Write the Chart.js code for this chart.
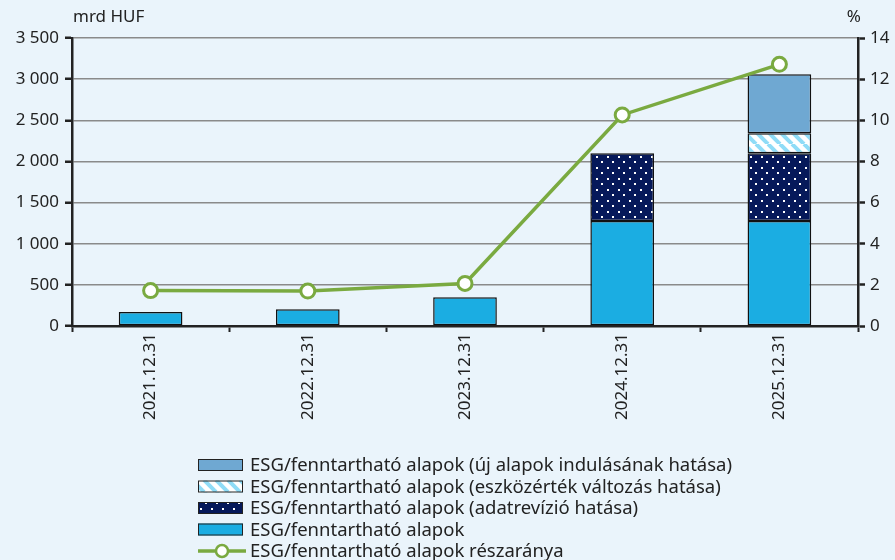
<!DOCTYPE html>
<html>
<head>
<meta charset="utf-8">
<script src="https://cdn.jsdelivr.net/npm/chart.js@4.4.1/dist/chart.umd.min.js"></script>
<style>
  html, body { margin:0; padding:0; background:#eaf4fb; }
  #wrap { width:895px; height:560px; }
</style>
</head>
<body>
<div id="wrap"><canvas id="esgChart" width="895" height="560"></canvas></div>
<script>
// adatok
var categories = ['2021.12.31', '2022.12.31', '2023.12.31', '2024.12.31', '2025.12.31'];
var baseFunds   = [170, 203, 349, 1276, 1276];
var revision    = [null, null, null, 823, 823];
var valuation   = [null, null, null, null, 243];
var newFunds    = [null, null, null, null, 717];
var shareRatio  = [1.72, 1.70, 2.07, 10.26, 12.72];
var leftTicks   = [0, 500, 1000, 1500, 2000, 2500, 3000, 3500];
var rightTicks  = [0, 2, 4, 6, 8, 10, 12, 14];

var legendNames = [
  'ESG/fenntartható alapok (új alapok indulásának hatása)',
  'ESG/fenntartható alapok (eszközérték változás hatása)',
  'ESG/fenntartható alapok (adatrevízió hatása)',
  'ESG/fenntartható alapok',
  'ESG/fenntartható alapok részaránya'
];

var FONT = '"Noto Sans", sans-serif';
var blue = '#1badE2', navy = '#06195a', lightTop = '#6fa8d2', green = '#7aaa40';

function dotPattern() {
  var c = document.createElement('canvas');
  c.width = 11; c.height = 11;
  var g = c.getContext('2d');
  g.fillStyle = navy; g.fillRect(0, 0, 11, 11);
  g.fillStyle = '#ffffff';
  g.fillRect(2, 2, 2, 2);
  g.fillRect(7, 7, 2, 2);
  return g.createPattern(c, 'repeat');
}
function hatchPattern() {
  var c = document.createElement('canvas');
  c.width = 12; c.height = 12;
  var g = c.getContext('2d');
  g.fillStyle = '#ffffff'; g.fillRect(0, 0, 12, 12);
  g.strokeStyle = '#8fdcf7'; g.lineWidth = 4;
  for (var k = -12; k <= 24; k += 12) {
    g.beginPath(); g.moveTo(k, 0); g.lineTo(k + 12, 12); g.stroke();
  }
  return g.createPattern(c, 'repeat');
}
var dots = dotPattern();
var hatch = hatchPattern();

var extras = {
  id: 'extras',
  afterDraw: function(chart) {
    var ctx = chart.ctx;
    ctx.save();
    ctx.fillStyle = '#222';
    ctx.font = '17px ' + FONT;
    ctx.textBaseline = 'middle';
    ctx.textAlign = 'left';
    ctx.fillText('mrd HUF', 73, 17);
    ctx.textAlign = 'right';
    ctx.fillText('%', 861, 17);

    // legend
    var fills = [lightTop, hatch, dots, blue];
    var y0 = 465, step = 21.5;
    ctx.font = '18.5px ' + FONT;
    ctx.textAlign = 'left';
    for (var i = 0; i < legendNames.length; i++) {
      var y = y0 + i * step;
      if (i < 4) {
        ctx.fillStyle = fills[i];
        ctx.fillRect(198, y - 6, 45, 12);
        ctx.strokeStyle = '#222'; ctx.lineWidth = 1;
        ctx.strokeRect(198.5, y - 5.5, 44, 11);
      } else {
        ctx.strokeStyle = green; ctx.lineWidth = 3.5;
        ctx.beginPath(); ctx.moveTo(198, y); ctx.lineTo(246, y); ctx.stroke();
        ctx.fillStyle = '#fff'; ctx.lineWidth = 2.5;
        ctx.beginPath(); ctx.arc(222, y, 6, 0, Math.PI * 2); ctx.fill(); ctx.stroke();
      }
      ctx.fillStyle = '#222';
      ctx.fillText(legendNames[i], 250, y + 1);
    }
    ctx.restore();
  }
};

function fmt(v) { return String(v).replace(/\B(?=(\d{3})+(?!\d))/g, ' '); }

var ctx = document.getElementById('esgChart').getContext('2d');
var chart = new Chart(ctx, {
  type: 'bar',
  data: {
    labels: categories,
    datasets: [
      { type: 'line', label: legendNames[4], data: shareRatio, yAxisID: 'y1', order: 0,
        borderColor: green, borderWidth: 3.5, pointRadius: 7, pointBorderWidth: 3,
        pointBackgroundColor: '#fff', pointBorderColor: green, tension: 0 },
      { label: legendNames[3], data: baseFunds, backgroundColor: blue, order: 1,
        borderColor: '#111', borderWidth: 1.5, borderSkipped: false },
      { label: legendNames[2], data: revision, backgroundColor: dots, order: 1,
        borderColor: '#111', borderWidth: 1.5, borderSkipped: false },
      { label: legendNames[1], data: valuation, backgroundColor: hatch, order: 1,
        borderColor: '#111', borderWidth: 1.5, borderSkipped: false },
      { label: legendNames[0], data: newFunds, backgroundColor: lightTop, order: 1,
        borderColor: '#111', borderWidth: 1.5, borderSkipped: false }
    ]
  },
  options: {
    responsive: false,
    animation: false,
    layout: { padding: { top: 38, left: 0, right: 0, bottom: 0 } },
    plugins: { legend: { display: false }, tooltip: { enabled: false } },
    datasets: { bar: { barPercentage: 0.81, categoryPercentage: 0.5 } },
    scales: {
      x: {
        stacked: true,
        afterFit: function(s) { s.height = 560 - 38 - 288; },
        grid: { drawOnChartArea: false, offset: true, tickLength: 6, tickColor: '#222', tickWidth: 2 },
        border: { display: true, color: '#222', width: 2.5 },
        ticks: { minRotation: 90, maxRotation: 90, padding: 1, color: '#222', font: { family: FONT, size: 17 } }
      },
      y: {
        stacked: true, position: 'left', min: 0, max: 3500,
        afterFit: function(s) { s.width = 72; },
        afterBuildTicks: function(s) { s.ticks = leftTicks.map(function(v) { return { value: v }; }); },
        grid: { color: '#8a8a8a', lineWidth: 1.5, borderDash: [2, 5], tickLength: 7,
                tickColor: '#222', tickWidth: 2.5, tickBorderDash: [] },
        border: { display: true, color: '#222', width: 2.5 },
        ticks: { padding: 6, color: '#222', font: { family: FONT, size: 17 }, callback: function(v) { return fmt(v); } }
      },
      y1: {
        position: 'right', min: 0, max: 14,
        afterFit: function(s) { s.width = 37; },
        afterBuildTicks: function(s) { s.ticks = rightTicks.map(function(v) { return { value: v }; }); },
        grid: { drawOnChartArea: false, tickLength: 7, tickColor: '#222', tickWidth: 2.5 },
        border: { display: true, color: '#222', width: 2.5 },
        ticks: { padding: 5, color: '#222', font: { family: FONT, size: 17 } }
      }
    }
  },
  plugins: [extras]
});
</script>
</body>
</html>
